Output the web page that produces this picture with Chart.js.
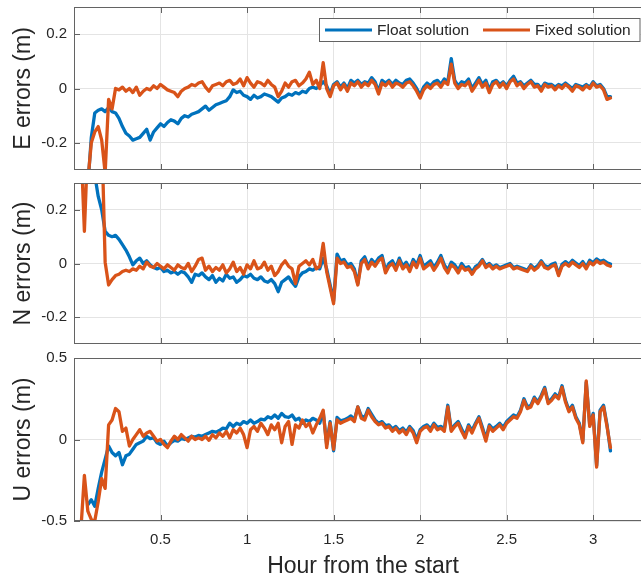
<!DOCTYPE html>
<html>
<head>
<meta charset="utf-8">
<title>ENU errors</title>
<script src="https://cdn.jsdelivr.net/npm/chart.js@4.4.1/dist/chart.umd.min.js"></script>
<style>
  html, body { margin: 0; padding: 0; background: #fff; overflow: hidden; }
  #wrap { position: relative; width: 641px; height: 580px; overflow: hidden; }
  canvas { position: absolute; left: 0; }
</style>
</head>
<body>
<div id="wrap">
  <canvas id="eChart" width="652" height="176" style="top:0px;width:652px;height:176px"></canvas>
  <canvas id="nChart" width="652" height="174" style="top:176px;width:652px;height:174px"></canvas>
  <canvas id="uChart" width="652" height="230" style="top:350px;width:652px;height:230px"></canvas>
</div>
<script>
// sampling grid (hours from the start)
const startHour = 0.04;
const stepHour = 0.02;

const seriesNames = ['Float solution', 'Fixed solution'];
const xTicks = [0.5, 1, 1.5, 2, 2.5, 3];
const enTicks = [-0.2, 0, 0.2];
const uTicks = [-0.5, 0, 0.5];

const eFloat = [
  null, null, -0.36, -0.18, -0.09, -0.08, -0.075, -0.085, -0.07, -0.085,
  -0.09, -0.11, -0.14, -0.165, -0.175, -0.19, -0.185, -0.18, -0.165, -0.15,
  -0.19, -0.16, -0.145, -0.13, -0.14, -0.125, -0.115, -0.12, -0.13, -0.11,
  -0.10, -0.105, -0.095, -0.09, -0.085, -0.075, -0.065, -0.08, -0.07, -0.06,
  -0.055, -0.05, -0.045, -0.03, -0.005, -0.015, -0.01, -0.025, -0.03, -0.04,
  -0.025, -0.035, -0.03, -0.02, -0.025, -0.03, -0.04, -0.05, -0.035, -0.03,
  -0.02, -0.025, -0.015, -0.02, -0.01, -0.015, 0.0, 0.005, 0.0, 0.01,
  0.025, 0.01, -0.02, 0.015, 0.025, 0.005, 0.02, 0.0, 0.03, 0.02,
  0.03, 0.015, 0.025, 0.02, 0.04, 0.025, -0.01, 0.03, 0.02, 0.03,
  0.015, 0.03, 0.02, 0.015, 0.03, 0.035, 0.02, 0.0, -0.025, 0.005,
  0.02, 0.01, 0.025, 0.03, 0.015, 0.035, 0.025, 0.11, 0.03, 0.01,
  0.025, 0.02, 0.035, 0.0, 0.02, 0.04, 0.015, 0.03, -0.005, 0.025,
  0.03, 0.015, 0.025, 0.01, 0.03, 0.045, 0.02, 0.025, 0.01, 0.02,
  0.03, 0.015, 0.015, 0.0, 0.02, 0.015, 0.015, 0.005, 0.015, 0.01,
  0.02, 0.01, 0.0, 0.015, 0.01, 0.005, 0.015, 0.005, 0.025, 0.01,
  0.015, 0.0, -0.03, -0.03
];
const eFixed = [
  null, null, -0.34, -0.2, -0.16, -0.14, -0.19, -0.31, -0.04, -0.075,
  0.0, -0.005, 0.005, -0.01, 0.0, -0.015, 0.005, -0.025, -0.01, 0.0,
  -0.005, 0.01, 0.0, 0.015, 0.005, -0.005, -0.01, -0.015, -0.03, -0.01,
  0.0, 0.005, 0.015, 0.01, 0.02, 0.025, 0.005, -0.01, 0.01, 0.015,
  0.02, 0.01, 0.025, 0.03, 0.015, 0.02, 0.035, 0.01, 0.04, 0.02,
  0.005, 0.025, 0.02, 0.01, 0.03, 0.015, 0.005, -0.03, -0.01, 0.02,
  0.005, 0.025, 0.03, 0.01, 0.02, 0.035, 0.06, 0.015, 0.03, 0.0,
  0.095, 0.0, -0.03, 0.01, 0.02, -0.005, 0.015, -0.01, 0.02, 0.01,
  0.025, 0.005, 0.02, 0.01, 0.03, 0.015, -0.02, 0.02, 0.01, 0.025,
  0.005, 0.02, 0.015, 0.005, 0.02, 0.025, 0.01, -0.01, -0.035, -0.005,
  0.01, 0.0, 0.015, 0.02, 0.005, 0.025, 0.015, 0.09, 0.02, 0.0,
  0.015, 0.01, 0.025, -0.01, 0.01, 0.03, 0.005, 0.02, -0.015, 0.015,
  0.025, 0.005, 0.02, 0.0, 0.025, 0.035, 0.01, 0.02, 0.0, 0.015,
  0.025, 0.005, 0.01, -0.01, 0.015, 0.005, 0.01, -0.005, 0.01, 0.0,
  0.015, 0.005, -0.01, 0.01, 0.005, -0.005, 0.01, 0.0, 0.02, 0.005,
  0.01, -0.005, -0.04, -0.035
];

const nFloat = [
  null, null, 0.5, 0.42, 0.33, 0.25, 0.2, 0.12, 0.105, 0.1,
  0.105, 0.09, 0.07, 0.05, 0.025, -0.005, 0.01, 0.02, 0.0, 0.01,
  -0.005, -0.015, -0.02, -0.015, -0.03, -0.025, -0.035, -0.03, -0.04, -0.03,
  -0.035, -0.05, -0.07, -0.04, -0.045, -0.035, -0.05, -0.06, -0.045, -0.07,
  -0.055, -0.065, -0.04, -0.055, -0.05, -0.07, -0.06, -0.045, -0.05, -0.04,
  -0.055, -0.06, -0.05, -0.065, -0.07, -0.06, -0.075, -0.105, -0.07, -0.06,
  -0.05, -0.07, -0.085, -0.05, -0.035, -0.03, -0.02, -0.025, -0.015, -0.02,
  0.02, -0.02, -0.08, -0.14, 0.035, 0.01, 0.015, -0.005, 0.0, -0.02,
  -0.075, 0.01, 0.025, -0.01, 0.015, 0.0, 0.02, 0.03, -0.025, 0.0,
  0.01, -0.015, 0.02, -0.01, 0.005, -0.02, 0.015, -0.005, 0.03, -0.01,
  0.0, 0.01, -0.015, 0.005, 0.03, -0.005, -0.025, 0.005, -0.005, -0.025,
  0.0, -0.017, -0.012, -0.032, -0.012, -0.003, 0.015, -0.008, 0.0, -0.013,
  -0.005, -0.015, -0.01, -0.005, 0.0, -0.015, -0.01, -0.015, -0.02, -0.025,
  -0.005, -0.018, -0.008, 0.01, -0.008, -0.013, -0.003, 0.002, -0.04, -0.003,
  0.007, -0.003, 0.012, 0.002, -0.008, 0.007, -0.013, 0.012, 0.003, 0.017,
  0.008, 0.012, 0.003, -0.002
];
const nFixed = [
  0.45, 0.12, 0.45, 0.5, 0.5, 0.5, 0.5, 0.005, -0.08, -0.06,
  -0.045, -0.04, -0.03, -0.025, -0.03, -0.02, -0.025, -0.01, -0.02, 0.005,
  -0.01, -0.015, 0.0, -0.01, -0.02, -0.005, -0.015, -0.025, -0.005, -0.015,
  -0.02, 0.0, -0.03, -0.01, 0.015, 0.02, -0.025, -0.01, -0.03, -0.015,
  -0.025, -0.005, -0.035, -0.02, 0.005, -0.03, -0.015, -0.04, -0.005, -0.02,
  0.01, -0.02, -0.015, 0.005, -0.025, -0.01, -0.045, -0.03, -0.005, 0.01,
  -0.01, -0.02, -0.075, -0.01, 0.0, 0.01, -0.005, 0.015, -0.02, -0.01,
  0.075, -0.03, -0.09, -0.15, 0.02, 0.0, 0.005, -0.015, -0.01, -0.03,
  -0.08, 0.0, 0.015, -0.02, 0.005, -0.01, 0.01, 0.02, -0.035, -0.01,
  0.0, -0.025, 0.01, -0.02, -0.005, -0.03, 0.005, -0.015, 0.02, -0.02,
  -0.01, 0.0, -0.025, -0.005, 0.02, -0.015, -0.035, -0.005, -0.015, -0.035,
  -0.01, -0.025, -0.02, -0.04, -0.02, -0.01, 0.01, -0.015, -0.005, -0.02,
  -0.01, -0.02, -0.015, -0.01, -0.005, -0.02, -0.015, -0.02, -0.025, -0.03,
  -0.01, -0.025, -0.015, 0.005, -0.015, -0.02, -0.01, -0.005, -0.045, -0.01,
  0.0, -0.01, 0.005, -0.005, -0.015, 0.0, -0.02, 0.005, -0.005, 0.01,
  0.0, 0.005, -0.005, -0.01
];

const uFloat = [
  null, null, -0.4, -0.37, -0.41, -0.3, -0.2, -0.12, -0.04, -0.08,
  -0.1, -0.08, -0.155, -0.1, -0.09, -0.06, -0.03, -0.02, -0.01, 0.02,
  0.005, 0.01, -0.02, -0.03, -0.01, -0.04, -0.02, -0.005, -0.01, 0.005,
  0.0, 0.01, 0.02, 0.015, 0.025, 0.02, 0.03, 0.04, 0.05, 0.045,
  0.055, 0.07, 0.065, 0.1, 0.08, 0.1, 0.09, 0.11, 0.1, 0.12,
  0.1, 0.11, 0.125, 0.12, 0.14, 0.13, 0.15, 0.13, 0.16, 0.14,
  0.135, 0.15, 0.12, 0.13, 0.1, 0.12, 0.11, 0.13, 0.12, 0.1,
  0.17, -0.03, 0.11, -0.07, 0.135, 0.115, 0.12, 0.13, 0.145, 0.12,
  0.2, 0.145, 0.135, 0.19, 0.155, 0.12, 0.1, 0.11, 0.085, 0.09,
  0.065, 0.08, 0.055, 0.07, 0.045, 0.08, 0.055, 0.0, 0.06, 0.08,
  0.09, 0.065, 0.1, 0.075, 0.08, 0.065, 0.21, 0.06, 0.09, 0.11,
  0.065, 0.025, 0.09, 0.055, 0.1, 0.14, 0.075, 0.005, 0.09, 0.065,
  0.08, 0.1, 0.075, 0.11, 0.13, 0.15, 0.14, 0.18, 0.25, 0.2,
  0.21, 0.26, 0.23, 0.27, 0.32, 0.23, 0.25, 0.28, 0.26, 0.33,
  0.24, 0.18, 0.21, 0.14, 0.1, -0.01, 0.35, 0.09, 0.16, -0.16,
  0.18, 0.21, 0.09, -0.07
];
const uFixed = [
  -0.55, -0.22, -0.44, -0.49, -0.5, -0.38, -0.24, -0.3, 0.09, 0.12,
  0.19, 0.17, 0.05, 0.07, -0.04, 0.0, 0.03, 0.06, 0.02, 0.04,
  0.05, 0.02, -0.01, 0.0, -0.03, -0.05, -0.01, 0.02, 0.0, 0.03,
  0.01, -0.01, 0.02, 0.0, 0.01, 0.0, 0.02, -0.005, 0.03, 0.01,
  0.04, 0.02, 0.05, 0.01, 0.06, 0.04, 0.07, 0.03, -0.05, 0.06,
  0.08, 0.05, 0.1, 0.07, 0.03, 0.09, 0.06, 0.1, -0.02, 0.08,
  0.11, -0.03, 0.09, 0.07, 0.12, 0.08, 0.1, 0.04, 0.09, 0.13,
  0.18, -0.05, 0.1, -0.06, 0.12, 0.1, 0.11, 0.12, 0.13, 0.11,
  0.2, 0.13, 0.12, 0.18, 0.14, 0.11, 0.09, 0.1, 0.07, 0.08,
  0.05, 0.07, 0.04, 0.06, 0.03, 0.07, 0.04, -0.02, 0.05, 0.07,
  0.08, 0.05, 0.09, 0.06, 0.07, 0.05, 0.2, 0.05, 0.08, 0.1,
  0.05, 0.01, 0.08, 0.04, 0.09, 0.13, 0.06, -0.01, 0.08, 0.05,
  0.07, 0.09, 0.06, 0.1, 0.12, 0.14, 0.13, 0.17, 0.24, 0.19,
  0.2, 0.25, 0.22, 0.26, 0.31, 0.22, 0.24, 0.27, 0.25, 0.32,
  0.23, 0.17, 0.2, 0.13, 0.09, -0.02, 0.36, 0.08, 0.15, -0.17,
  0.17, 0.2, 0.08, -0.05
];

const floatColor = '#0072BD';
const fixedColor = '#D95319';
const textColor = '#262626';
const axisColor = '#636363';
const gridColor = '#e4e4e4';
const fontFamily = "'Liberation Sans', Arial, Helvetica, sans-serif";

const hours = eFloat.map((_, i) => +(startHour + i * stepHour).toFixed(2));

function toPoints(values) {
  return values.map((v, i) => ({ x: hours[i], y: v }));
}

// chart.js pads the area for edge labels; the axes here sit flush instead
function noEdgePadding(s) {
  s.paddingTop = 0;
  s.paddingBottom = 0;
  s.paddingLeft = 0;
  s.paddingRight = 0;
}

// box outline plus inward tick marks, drawn over the traces
const axesBox = {
  id: 'axesBox',
  afterDatasetsDraw(chart) {
    const { ctx, chartArea: a, scales } = chart;
    ctx.save();
    ctx.strokeStyle = axisColor;
    ctx.lineWidth = 1;
    ctx.strokeRect(a.left + 0.5, a.top + 0.5, a.right - a.left + 10, a.bottom - a.top - 1);
    ctx.beginPath();
    scales.x.ticks.forEach(t => {
      const x = Math.round(scales.x.getPixelForValue(t.value)) + 0.5;
      ctx.moveTo(x, a.top);
      ctx.lineTo(x, a.top + 6);
      ctx.moveTo(x, a.bottom);
      ctx.lineTo(x, a.bottom - 6);
    });
    scales.y.ticks.forEach(t => {
      const y = Math.round(scales.y.getPixelForValue(t.value)) + 0.5;
      ctx.moveTo(a.left, y);
      ctx.lineTo(a.left + 6, y);
    });
    ctx.stroke();
    ctx.restore();
  }
};

// legend in the upper right corner of the first panel
const cornerLegend = {
  id: 'cornerLegend',
  afterDraw(chart) {
    const ctx = chart.ctx;
    const sets = chart.data.datasets.slice().reverse();
    ctx.save();
    ctx.fillStyle = '#fff';
    ctx.fillRect(319.5, 18.5, 320.5, 23);
    ctx.strokeStyle = axisColor;
    ctx.lineWidth = 1;
    ctx.strokeRect(319.5, 18.5, 320.5, 23);
    ctx.font = '15.5px ' + fontFamily;
    ctx.textBaseline = 'middle';
    ctx.fillStyle = textColor;
    const slots = [325, 483];
    sets.forEach((ds, k) => {
      const x0 = slots[k];
      ctx.strokeStyle = ds.borderColor;
      ctx.lineWidth = 3;
      ctx.beginPath();
      ctx.moveTo(x0, 30);
      ctx.lineTo(x0 + 47, 30);
      ctx.stroke();
      ctx.fillText(ds.label, x0 + 52, 30.5);
    });
    ctx.restore();
  }
};

function makePanel(canvasId, floatVals, fixedVals, yTitle, yRange, yTicks, pad, showX, extraPlugins) {
  const el = document.getElementById(canvasId);
  return new Chart(el, {
    type: 'line',
    data: {
      datasets: [
        { label: seriesNames[1], data: toPoints(fixedVals), borderColor: fixedColor },
        { label: seriesNames[0], data: toPoints(floatVals), borderColor: floatColor },
      ]
    },
    options: {
      responsive: false,
      animation: false,
      events: [],
      parsing: false,
      spanGaps: false,
      layout: { padding: { top: pad.top, bottom: pad.bottom, left: 0, right: 0 } },
      elements: {
        point: { radius: 0 },
        line: { borderWidth: 3.3, tension: 0, fill: false, borderJoinStyle: 'round', borderCapStyle: 'round' },
      },
      plugins: {
        legend: { display: false },
        tooltip: { enabled: false },
      },
      scales: {
        x: {
          type: 'linear',
          min: 0,
          max: 3.34,
          afterBuildTicks: s => { s.ticks = xTicks.map(v => ({ value: v })); },
          afterFit: s => { s.height = showX ? 59 : 0; noEdgePadding(s); },
          grid: { color: gridColor, drawTicks: false },
          border: { display: false },
          ticks: {
            display: showX,
            padding: 10,
            color: textColor,
            font: { family: fontFamily, size: 15 },
            maxRotation: 0,
            callback: v => String(v),
          },
          title: {
            display: showX,
            text: 'Hour from the start',
            color: textColor,
            font: { family: fontFamily, size: 23, lineHeight: 1 },
            padding: { top: 0, bottom: 2 },
          },
        },
        y: {
          type: 'linear',
          min: yRange[0],
          max: yRange[1],
          afterBuildTicks: s => { s.ticks = yTicks.map(v => ({ value: v })); },
          afterFit: s => { s.width = 74; noEdgePadding(s); },
          grid: { color: gridColor, drawTicks: false },
          border: { display: false },
          ticks: {
            padding: 7,
            color: textColor,
            font: { family: fontFamily, size: 15 },
            callback: v => String(v),
          },
          title: {
            display: true,
            text: yTitle,
            color: textColor,
            font: { family: fontFamily, size: 23, lineHeight: 1 },
            padding: { top: 12.5, bottom: 0 },
          },
        },
      },
    },
    plugins: [axesBox].concat(extraPlugins || []),
  });
}

makePanel('eChart', eFloat, eFixed, 'E errors (m)', [-0.3, 0.3], enTicks, { top: 7, bottom: 6 }, false, [cornerLegend]);
makePanel('nChart', nFloat, nFixed, 'N errors (m)', [-0.3, 0.3], enTicks, { top: 7, bottom: 6 }, false);
makePanel('uChart', uFloat, uFixed, 'U errors (m)', [-0.5, 0.5], uTicks, { top: 8, bottom: 0 }, true);
</script>
</body>
</html>
